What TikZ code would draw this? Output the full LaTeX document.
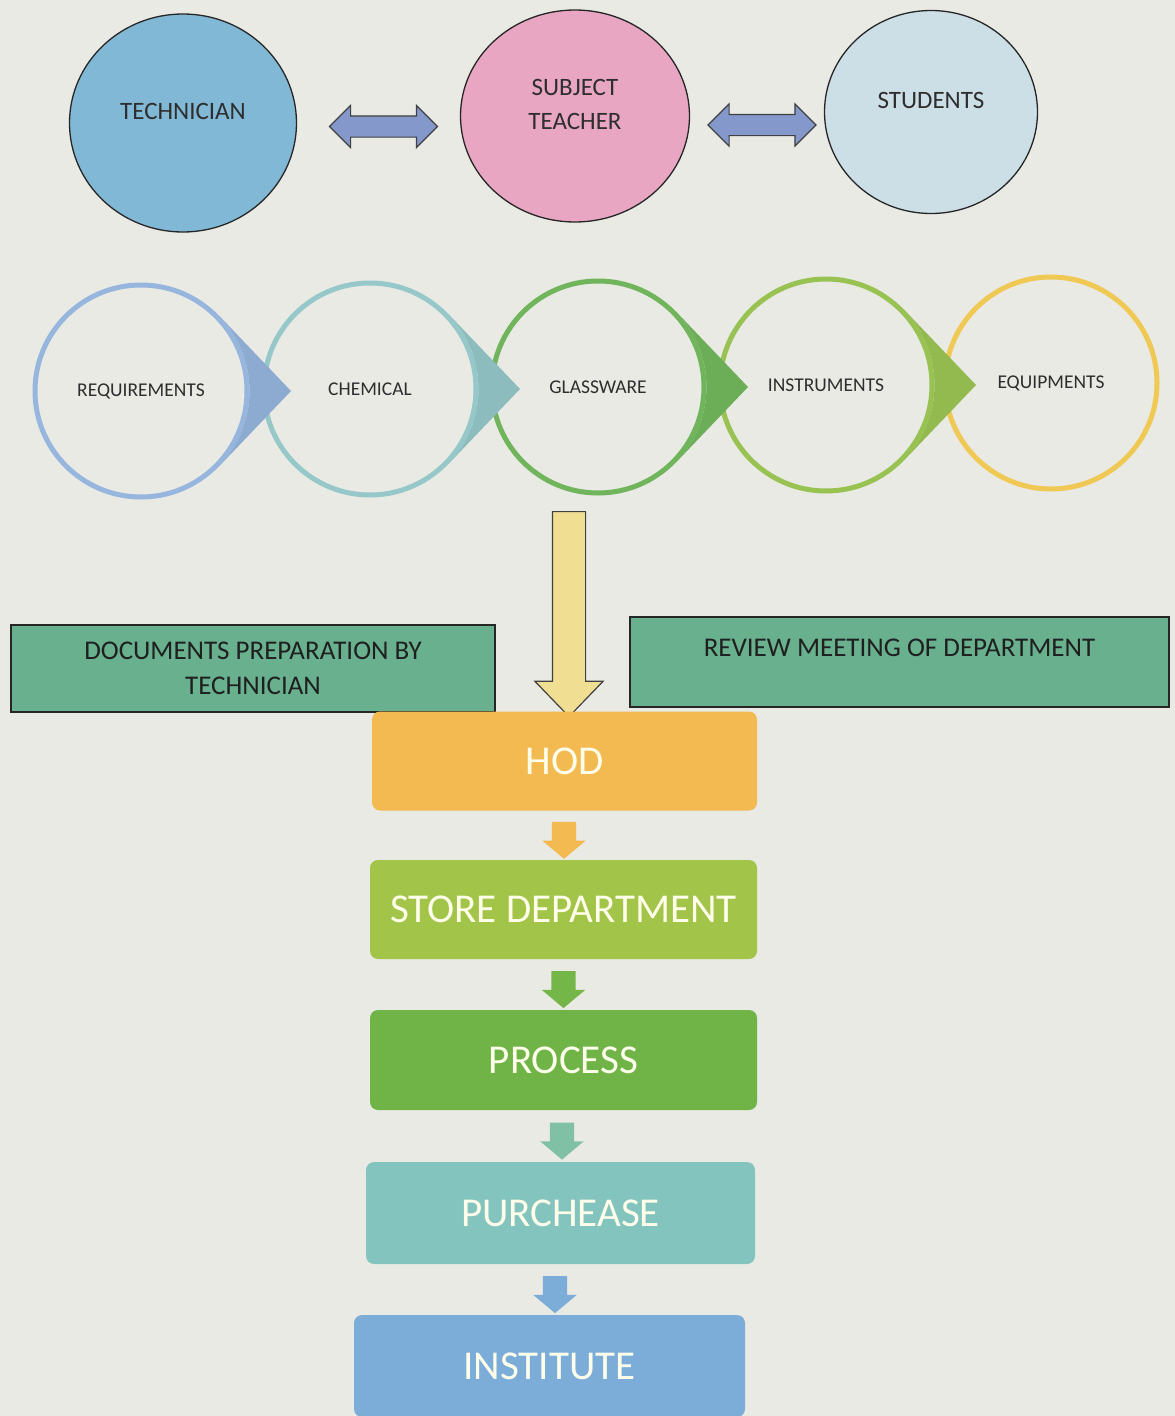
\documentclass[tikz,border=0pt]{standalone}
\usepackage{fontspec}
\setmainfont{Carlito}
\usepackage{tikz}
\usetikzlibrary{calc}
\usetikzlibrary{shapes.geometric}
\usetikzlibrary{shapes.arrows}
\definecolor{paper}{RGB}{234,234,229}
\definecolor{techblue}{RGB}{128,184,214}
\definecolor{teachpink}{RGB}{232,166,194}
\definecolor{studgray}{RGB}{204,222,230}
\definecolor{linkblue}{RGB}{132,152,204}
\definecolor{reqblue}{RGB}{150,182,222}
\definecolor{chemteal}{RGB}{150,200,202}
\definecolor{glassgreen}{RGB}{112,180,92}
\definecolor{instgreen}{RGB}{152,194,82}
\definecolor{equipyellow}{RGB}{240,200,84}
\definecolor{docgreen}{RGB}{104,176,142}
\definecolor{downyellow}{RGB}{240,222,146}
\definecolor{hodorange}{RGB}{244,186,82}
\definecolor{storegreen}{RGB}{162,196,72}
\definecolor{procgreen}{RGB}{112,180,72}
\definecolor{purchteal}{RGB}{132,196,190}
\definecolor{instblue}{RGB}{124,172,216}
\colorlet{inkgray}{black!82}
\colorlet{paletext}{white!92!yellow}

\begin{document}
\begin{tikzpicture}[x=1pt,y=1pt,
	role/.style={ellipse,draw=black!85,line width=1.3pt,text=inkgray,align=center,text depth=24pt,font=\fontsize{25}{34}\selectfont},
	swap/.style={double arrow,draw=black!75,line width=1.2pt,fill=linkblue,inner xsep=0pt,inner ysep=10pt,double arrow head extend=10.5pt,double arrow tip angle=90,minimum height=108pt},
	item/.style={circle,line width=5pt,minimum size=212pt,inner sep=0pt,text=inkgray,font=\fontsize{19.5}{22}\selectfont},
	note/.style={rectangle,draw=black!85,line width=1.5pt,fill=docgreen,text=black!88,align=center,font=\fontsize{27}{35}\selectfont},
	stage/.style={rectangle,rounded corners=8pt,minimum height=99pt,text=paletext,font=\fontsize{41}{44}\selectfont},
	flow/.style={single arrow,rotate=-90,inner xsep=0pt,inner ysep=12pt,single arrow head extend=9.5pt,single arrow tip angle=100,minimum height=37pt}]
		\useasboundingbox (0,0) rectangle (1175,-1416);
		\fill[paper] (0,0) rectangle (1175,-1416);
		% who asks for what
		\node[role,fill=techblue,minimum width=227pt,minimum height=218pt] (tech) at (183,-123) {TECHNICIAN};
		\node[role,fill=teachpink,minimum width=229pt,minimum height=212pt] (subj) at (575,-116) {SUBJECT\\TEACHER};
		\node[role,fill=studgray,minimum width=213pt,minimum height=203pt] (stud) at (931,-112) {STUDENTS};
		\node[swap] (techsubj) at ($(tech.east)!0.5!(subj.west)+(5,-7)$) {};
		\node[swap] (subjstud) at ($(subj.east)!0.5!(stud.west)+(5,-11)$) {};
		% the chain of items
		\node[item,draw=reqblue] (req) at (141,-391) {REQUIREMENTS};
		\node[item,draw=chemteal] (chem) at (370,-389) {CHEMICAL};
		\node[item,draw=glassgreen] (glass) at (598,-387) {GLASSWARE};
		\node[item,draw=instgreen] (instr) at (826,-385) {INSTRUMENTS};
		\node[item,draw=equipyellow] (equip) at (1051,-383) {EQUIPMENTS};
		\coordinate (reqtip) at ($(req.center)+(150,0)$);
		\coordinate (chemtip) at ($(chem.center)+(150,0)$);
		\coordinate (glasstip) at ($(glass.center)+(150,0)$);
		\coordinate (instrtip) at ($(instr.center)+(150,0)$);
		\fill[reqblue!94!black] (req.44) -- (reqtip) -- (req.-44) arc[start angle=-44,end angle=44,radius=108.5pt] -- cycle;
		\fill[chemteal!94!black] (chem.44) -- (chemtip) -- (chem.-44) arc[start angle=-44,end angle=44,radius=108.5pt] -- cycle;
		\fill[glassgreen!96!black] (glass.44) -- (glasstip) -- (glass.-44) arc[start angle=-44,end angle=44,radius=108.5pt] -- cycle;
		\fill[instgreen!96!black] (instr.44) -- (instrtip) -- (instr.-44) arc[start angle=-44,end angle=44,radius=108.5pt] -- cycle;
		% side notes and the way down
		\node[note,minimum width=484pt,minimum height=87pt] (docs) at (253,-668.5) {DOCUMENTS PREPARATION BY\\TECHNICIAN};
		\node[note,minimum width=539pt,minimum height=90pt,text depth=28pt] (review) at (899.5,-662) {REVIEW MEETING OF DEPARTMENT};
		\node[single arrow,rotate=-90,draw=black!75,line width=1.2pt,fill=downyellow,inner xsep=0pt,inner ysep=16pt,single arrow head extend=17.5pt,single arrow tip angle=88,minimum height=205pt] (down) at (569,-605.5) {};
		\node[stage,fill=hodorange,minimum width=385pt] (hod) at (564.5,-761) {HOD};
		\node[stage,fill=storegreen,minimum width=387pt] (store) at (563.5,-909.5) {STORE DEPARTMENT};
		\node[stage,fill=procgreen,minimum width=387pt,minimum height=100pt] (proc) at (563.5,-1060) {PROCESS};
		\node[stage,fill=purchteal,minimum width=389pt,minimum height=102pt] (purch) at (560.5,-1213) {PURCHEASE};
		\node[stage,fill=instblue,minimum width=391pt,minimum height=102pt] (inst) at (549.5,-1366) {INSTITUTE};
		\node[flow,fill=hodorange] (hodstore) at ($(hod.south)!0.5!(store.north)$) {};
		\node[flow,fill=procgreen!90!storegreen] (storeproc) at ($(store.south)!0.5!(proc.north)$) {};
		\node[flow,fill=purchteal!80!procgreen] (procpurch) at ($(proc.south)!0.5!(purch.north)$) {};
		\node[flow,fill=instblue] (purchinst) at ($(purch.south)!0.5!(inst.north)$) {};
\end{tikzpicture}
\end{document}
